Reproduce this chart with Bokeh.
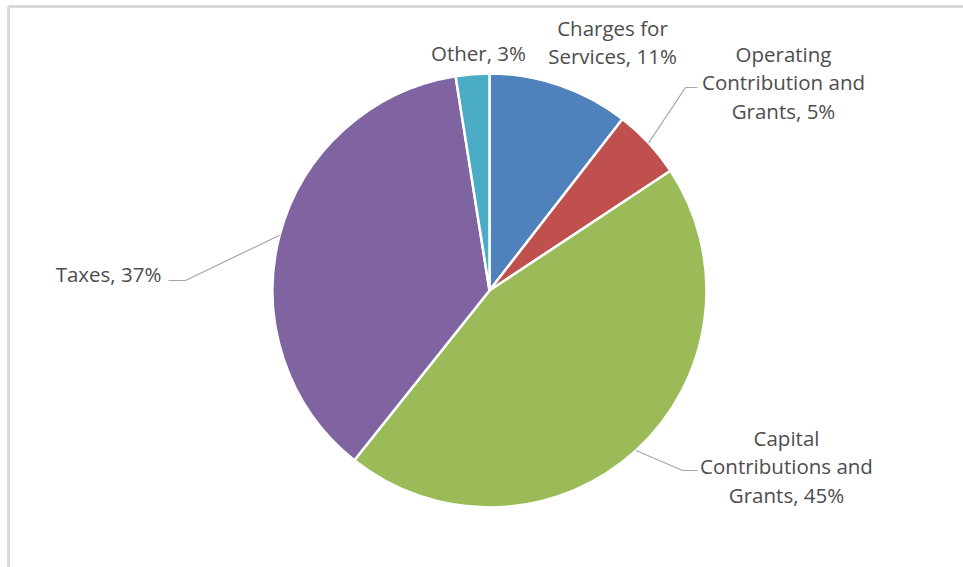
import math
from bokeh.plotting import figure
from bokeh.models import Range1d, ColumnDataSource
from bokeh.core.properties import value
from bokeh.embed import file_html
from bokeh.resources import INLINE

# ---- data ----
categories = ["Charges for Services", "Operating Contribution and Grants",
              "Capital Contributions and Grants", "Taxes", "Other"]
shares = [10.5, 5.2, 45.0, 36.8, 2.5]
pct_labels = ["11%", "5%", "45%", "37%", "3%"]
colors = ["#4F81BD", "#C0504D", "#9BBB59", "#8064A2", "#4BACC6"]

W, H = 963, 567
def px(xp):  # screenshot x -> data x
    return xp
def py(yp):  # screenshot y -> data y
    return H - yp

p = figure(width=W, height=H, output_backend="svg", toolbar_location=None,
           x_range=Range1d(0, W), y_range=Range1d(0, H),
           x_axis_type=None, y_axis_type=None, min_border=0)
p.grid.visible = False
p.outline_line_color = None
p.background_fill_color = "white"
p.border_fill_color = "white"

# chart frame (left/top visible)
p.line([px(8), px(8)], [py(6), 0], line_color="#D9D9D9", line_width=3)
p.line([px(8), W], [py(6), py(6)], line_color="#D9D9D9", line_width=3)

cx, cy, r = px(489), py(290), 217
total = sum(shares)
starts, ends, mids = [], [], []
cum = 0.0
for s in shares:
    a0 = math.pi / 2 - 2 * math.pi * cum / total
    cum += s
    a1 = math.pi / 2 - 2 * math.pi * cum / total
    starts.append(a0)
    ends.append(a1)
    mids.append((a0 + a1) / 2)

src = ColumnDataSource(dict(start=starts, end=ends, color=colors, cat=categories))
p.wedge(x=cx, y=cy, radius=r, start_angle="start", end_angle="end",
        direction="clock", fill_color="color", line_color="white", line_width=2.5,
        source=src)

# leader lines: from slice edge at mid-angle to elbow and label
leaders = {1: [(685, 87), (697, 87)], 2: [(682, 470), (697, 470)], 3: [(185, 280), (168, 280)]}
for i, pts in leaders.items():
    ex = cx + r * math.cos(mids[i])
    ey = cy + r * math.sin(mids[i])
    xs = [ex] + [px(a) for a, b in pts]
    ys = [ey] + [py(b) for a, b in pts]
    p.line(xs, ys, line_color="#A6A6A6", line_width=1.2)

# labels (multi-line, centered)
label_lines = [
    (["Charges for", "Services, " + pct_labels[0]], 612, 27),
    (["Operating", "Contribution and", "Grants, " + pct_labels[1]], 783, 53),
    (["Capital", "Contributions and", "Grants, " + pct_labels[2]], 786, 437),
    (["Taxes, " + pct_labels[3]], 108, 273),
    (["Other, " + pct_labels[4]], 478, 52),
]
tx, ty, tt = [], [], []
for lines, x0, y0 in label_lines:
    for k, t in enumerate(lines):
        tx.append(px(x0))
        ty.append(py(y0 + 28.5 * k))
        tt.append(t)
p.text(x=tx, y=ty, text=tt, text_align="center", text_baseline="middle",
       text_font=value("Open Sans"), text_font_size="20.5px", text_color="#4D4D4D")

open("out.html", "w").write(file_html(p, INLINE))
